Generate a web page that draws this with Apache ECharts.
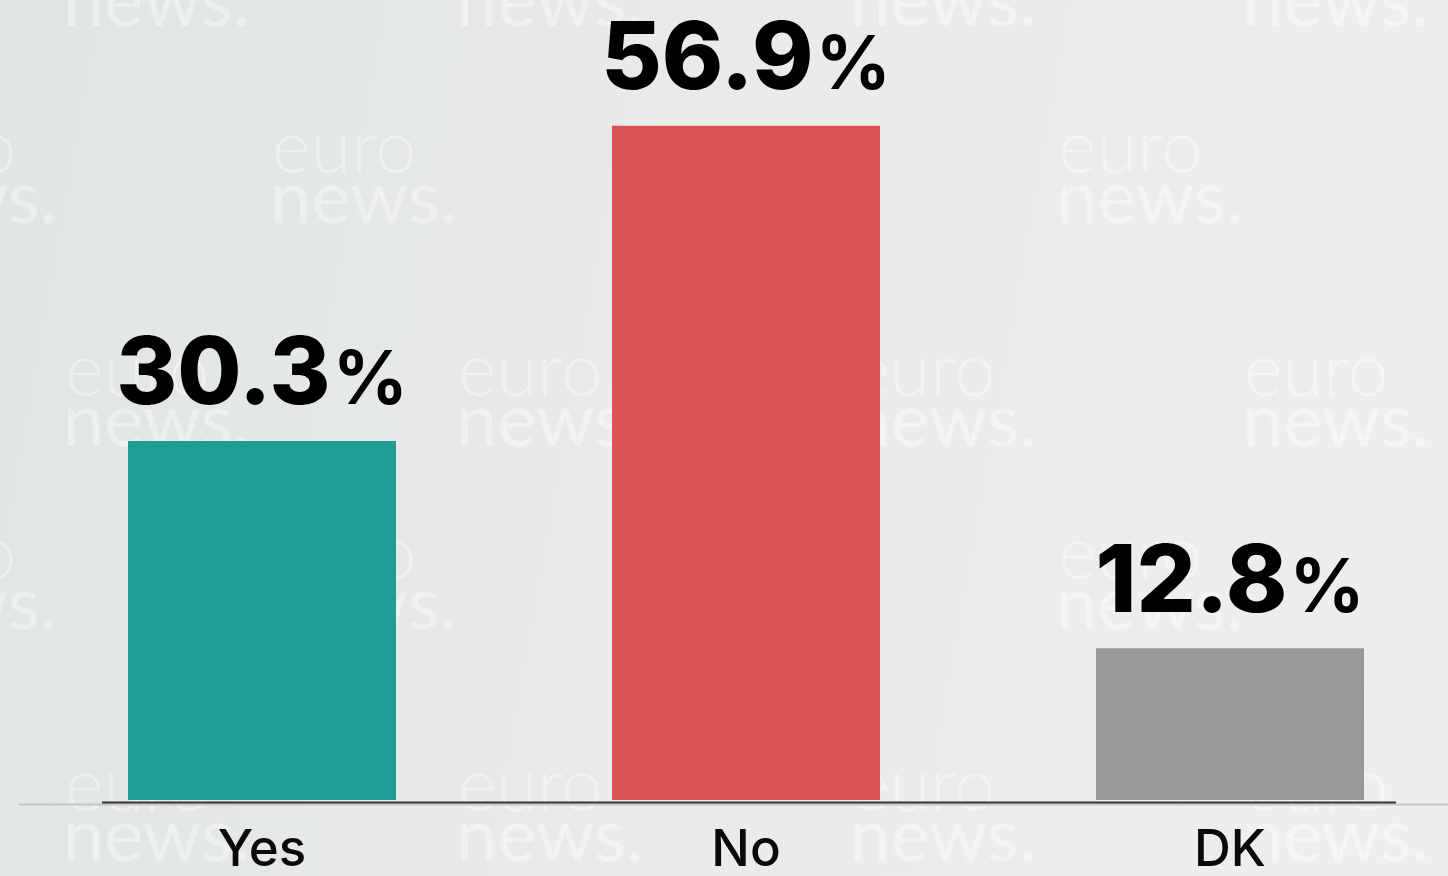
<!DOCTYPE html>
<html>
<head>
<meta charset="utf-8">
<script src="https://cdn.jsdelivr.net/npm/echarts@6/dist/echarts.min.js"></script>
<style>
html,body{margin:0;padding:0;width:1448px;height:876px;overflow:hidden;}
#chart{width:1472px;height:876px;}
</style>
</head>
<body>
<div id="chart"></div>
<script>
const categories = ['Yes', 'No', 'DK'];
const values = [30.3, 56.9, 12.8];
const barColors = ['#1f9e96', '#dc5356', '#999999'];

const chart = echarts.init(document.getElementById('chart'), null, {renderer: 'canvas'});

// faint "euro news." watermarks (background decoration)
const wm = [];
const colsEven = [65, 458, 851, 1244];
const colsOdd = [-128, 272, 665, 1058];
const rowsEven = [-85, 335, 750];
const rowsOdd = [112, 518];
function addWm(x, y) {
  wm.push({type: 'text', left: x, top: y, z: -10, silent: true,
    style: {text: 'euro', font: '300 74px Lato, sans-serif', fill: 'rgba(255,255,255,0.4)'}});
  wm.push({type: 'text', left: x - 2, top: y + 50, z: -10, silent: true,
    style: {text: 'news.', font: '400 74px Lato, sans-serif', fill: 'rgba(255,255,255,0.4)'}});
}
rowsEven.forEach(y => colsEven.forEach(x => addWm(x, y)));
rowsOdd.forEach(y => colsOdd.forEach(x => addWm(x, y)));

const option = {
  backgroundColor: {
    type: 'linear', x: 0, y: 0, x2: 1, y2: 0.3,
    colorStops: [
      {offset: 0, color: '#e0e5e6'},
      {offset: 0.45, color: '#e9eaea'},
      {offset: 1, color: '#efeeed'}
    ]
  },
  animation: false,
  grid: {left: 20, right: 0, top: 89, bottom: 74, containLabel: false},
  xAxis: {
    type: 'category',
    data: categories,
    axisLine: {show: false},
    axisTick: {show: false},
    axisLabel: {
      margin: 25,
      fontSize: 51,
      fontWeight: 500,
      fontFamily: 'Inter, Lato, sans-serif',
      color: '#0a0a0a',
      lineHeight: 51
    }
  },
  yAxis: {
    type: 'value', min: 0, max: 60,
    show: false,
    splitLine: {show: false}
  },
  graphic: wm.concat([
    {type: 'line', z: 5, silent: true, shape: {x1: 19, y1: 804.5, x2: 1472, y2: 804.5},
      style: {stroke: '#c6c6c6', lineWidth: 2}},
    {type: 'line', z: 6, silent: true, shape: {x1: 102, y1: 802.5, x2: 1396, y2: 802.5},
      style: {stroke: '#333333', lineWidth: 2}}
  ]),
  series: [{
    type: 'bar',
    barWidth: 268,
    data: values.map((v, i) => ({value: v, itemStyle: {color: barColors[i]}})),
    label: {
      show: true,
      position: 'top',
      distance: 18,
      formatter: p => '{n|' + p.value.toFixed(1) + '}{p|%}',
      rich: {
        n: {fontSize: 93, fontWeight: 800, fontFamily: 'Inter, Lato, sans-serif', color: '#000', lineHeight: 93, verticalAlign: 'bottom'},
        p: {fontSize: 74, fontWeight: 700, fontFamily: 'Inter, Lato, sans-serif', color: '#000', lineHeight: 93, verticalAlign: 'bottom', padding: [0, 0, 4, 2]}
      }
    }
  }]
};
chart.setOption(option);
</script>
</body>
</html>
